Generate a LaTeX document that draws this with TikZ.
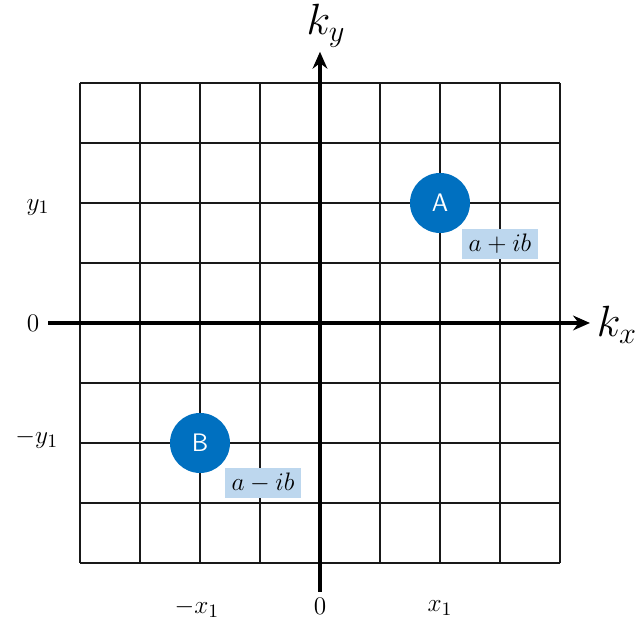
\documentclass[tikz,border=0pt]{standalone}
\usepackage{amsmath}
\usepackage{tikz}
\usetikzlibrary{arrows.meta,calc}
\definecolor{ptblue}{HTML}{0070C0}
\definecolor{lblblue}{HTML}{BDD7EE}

\begin{document}
\begin{tikzpicture}[>=Stealth,every node/.style={font=\fontsize{13}{15}\selectfont},
   pt/.style={circle,fill=ptblue,minimum size=1cm,inner sep=0pt,
     text=white,font=\sffamily\large},
   val/.style={fill=lblblue,minimum width=1.27cm,minimum height=0.5cm,
     inner sep=1pt}]
  \useasboundingbox (-5.333,-5) rectangle (5.267,5.383);
  \draw[black!90,line width=0.55pt] (-4,-4) grid (4,4);
  \coordinate (xl) at (-4.53,0);
  \coordinate (xr) at (4.5,0);
  \coordinate (yb) at (0,-4.48);
  \coordinate (yt) at (0,4.52);
  \draw[-{Stealth[length=8pt,width=7pt]},line width=1.6pt] (xl) -- (xr);
  \draw[-{Stealth[length=8pt,width=7pt]},line width=1.6pt] (yb) -- (yt);
  \node (kx) at (4.95,-0.03) [font=\huge] {$k_x$};
  \node (ky) at (0.1,4.95) [font=\huge] {$k_y$};
  % ticks
  \node (y1) at (-4.7,1.93) {$y_1$};
  \node (y0) at (-4.78,0) {$0$};
  \node (my1) at (-4.72,-1.93) {$-y_1$};
  \node (mx1) at (-2.05,-4.75) {$-x_1$};
  \node (x0) at (0,-4.72) {$0$};
  \node (x1) at (2,-4.75) {$x_1$};
  % points
  \node[pt] (A) at (2,2) {A};
  \node[pt] (B) at (-2,-2) {B};
  \node[val] (za) at (3,1.32) {$a+ib$};
  \node[val] (zb) at (-0.95,-2.67) {$a-ib$};
\end{tikzpicture}
\end{document}
